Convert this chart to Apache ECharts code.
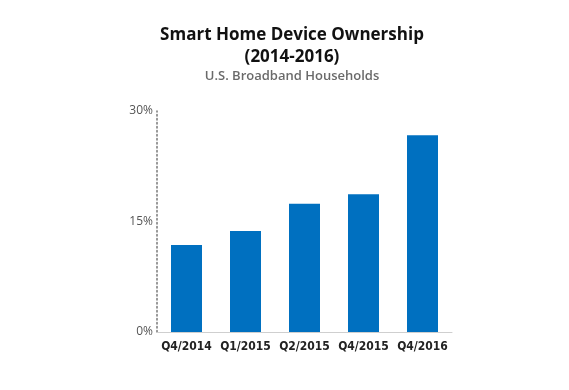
<!DOCTYPE html>
<html><head><meta charset="utf-8">
<script src="https://cdn.jsdelivr.net/npm/echarts@6/dist/echarts.min.js"></script>
<style>html,body{margin:0;padding:0;background:#fff}#c{width:569px;height:390px}</style>
</head><body><div id="c"></div>
<script>
const categories = ["Q4/2014","Q1/2015","Q2/2015","Q4/2015","Q4/2016"];
const ownership = [11.8, 13.7, 17.4, 18.7, 26.7];
const yTicks = [0, 15, 30];

const chart = echarts.init(document.getElementById('c'), null, {renderer:'canvas'});
chart.setOption({
  animation:false,
  title:[
    {text:"Smart Home Device Ownership\n(2014-2016)", left:287, top:19, textAlign:'center',
     textStyle:{fontFamily:'Open Sans', fontWeight:'bold', fontSize:17, color:'#111', lineHeight:22}},
    {text:"U.S. Broadband Households", left:287, top:65, textAlign:'center',
     textStyle:{fontFamily:'Open Sans', fontWeight:600, fontSize:13, color:'#6a6a6a'}}
  ],
  grid:{left:157, right:117, top:111, bottom:58, containLabel:false},
  xAxis:{type:'category', data:categories,
    axisLine:{lineStyle:{color:'#cfcfcf', width:1}}, axisTick:{show:false},
    axisLabel:{interval:0, fontFamily:'DejaVu Sans Condensed', fontWeight:'bold', fontSize:12, color:'#222', margin:9}},
  yAxis:{type:'value', min:yTicks[0], max:yTicks[2], interval:15,
    axisLine:{show:true, lineStyle:{color:'#777', type:[1.5,2.5], width:1.5}},
    axisTick:{show:false}, splitLine:{show:false},
    axisLabel:{formatter:v=>v+'%', fontFamily:'Open Sans', fontSize:12, color:'#555', margin:4}},
  series:[{type:'bar', data:ownership, barWidth:31, itemStyle:{color:'#0070C0'}}]
});
</script></body></html>
